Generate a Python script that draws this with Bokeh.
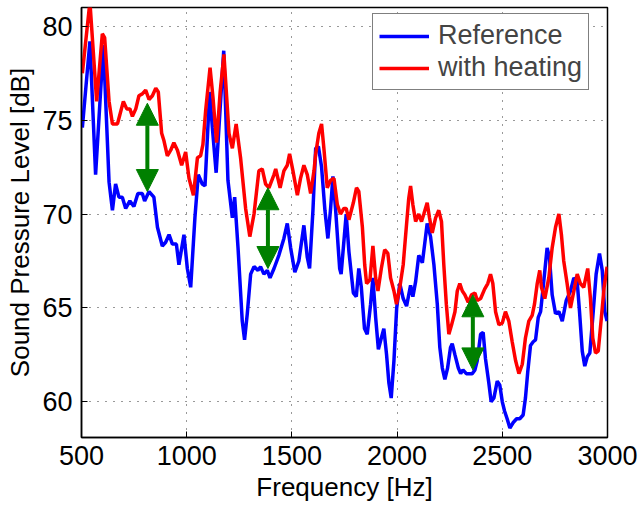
from bokeh.plotting import figure
from bokeh.models import (Range1d, Arrow, NormalHead, ColumnDataSource, Legend,
                          LegendItem, FixedTicker)
from bokeh.embed import file_html
from bokeh.resources import INLINE

# ---------------- data ----------------
freq_ref = [504, 540, 567, 604, 631, 647, 662, 678, 694, 710, 730, 749, 768, 789, 800,
            821, 844, 861, 884, 900, 916, 932, 951, 963, 987, 1003, 1019, 1039, 1055,
            1074, 1087, 1109, 1122, 1140, 1161, 1176, 1196, 1217, 1228, 1244, 1264,
            1275, 1288, 1304, 1320, 1339, 1351, 1367, 1383, 1396, 1415, 1438, 1462,
            1478, 1494, 1514, 1533, 1557, 1573, 1584, 1600, 1613, 1626, 1641, 1657,
            1671, 1684, 1695, 1708, 1727, 1734, 1758, 1771, 1792, 1806, 1818, 1830,
            1845, 1858, 1874, 1885, 1898, 1911, 1925, 1937, 1950, 1961, 1972, 1985,
            1998, 2013, 2029, 2045, 2064, 2075, 2088, 2103, 2120, 2131, 2143, 2159,
            2175, 2191, 2203, 2215, 2227, 2240, 2254, 2262, 2275, 2291, 2302, 2313,
            2329, 2344, 2357, 2370, 2381, 2397, 2409, 2420, 2436, 2447, 2460, 2476,
            2488, 2500, 2511, 2523, 2536, 2552, 2568, 2583, 2599, 2610, 2621, 2634,
            2647, 2658, 2671, 2682, 2697, 2713, 2724, 2737, 2753, 2769, 2785, 2804,
            2824, 2840, 2856, 2867, 2880, 2892, 2904, 2916, 2930, 2946, 2962, 2975,
            2987, 2998]
spl_ref = [74.6, 79.2, 72.1, 79.0, 71.7, 70.2, 71.6, 70.9, 70.9, 70.3, 70.7, 70.4, 71.1,
           71.1, 70.7, 71.2, 70.9, 69.3, 68.3, 68.5, 68.9, 68.4, 68.4, 67.3, 68.9, 67.1,
           66.1, 69.8, 72.1, 71.6, 71.5, 76.5, 74.6, 72.2, 76.0, 78.7, 71.8, 69.8, 70.9,
           68.2, 64.3, 63.3, 64.7, 66.8, 67.2, 67.0, 67.2, 66.8, 67.0, 66.6, 67.1, 67.8,
           68.7, 69.5, 68.2, 66.9, 67.5, 69.4, 67.7, 67.1, 70.2, 73.5, 73.6, 72.5, 70.2,
           68.7, 70.3, 72.0, 70.2, 67.1, 66.8, 70.0, 68.0, 65.8, 65.6, 67.1, 66.1, 63.9,
           63.6, 65.2, 66.6, 64.5, 62.8, 63.4, 63.9, 62.5, 61.0, 60.2, 62.2, 65.0, 66.3,
           65.5, 65.1, 66.2, 65.6, 66.4, 67.8, 67.4, 68.4, 69.5, 68.8, 67.3, 65.2, 62.9,
           61.8, 61.2, 61.8, 62.9, 63.1, 62.5, 61.8, 61.5, 61.7, 61.5, 61.5, 61.5, 61.7,
           62.2, 63.6, 63.7, 62.3, 61.0, 60.0, 60.2, 61.1, 60.9, 60.0, 59.5, 59.1, 58.6,
           58.9, 59.1, 59.1, 59.3, 60.2, 61.6, 63.0, 63.2, 63.3, 64.5, 64.8, 66.4, 68.2,
           67.7, 65.7, 64.7, 64.8, 64.3, 65.4, 65.9, 66.6, 66.4, 64.8, 62.7, 61.9, 62.4,
           62.6, 64.5, 66.8, 67.9, 67.0, 64.8, 64.3]

freq_heat = [504, 540, 572, 599, 610, 631, 647, 671, 678, 699, 715, 730, 742, 758, 773,
             789, 805, 821, 837, 853, 865, 881, 892, 908, 924, 939, 956, 976, 995, 1011,
             1032, 1051, 1066, 1077, 1090, 1111, 1125, 1142, 1159, 1177, 1201, 1217,
             1235, 1256, 1280, 1300, 1320, 1343, 1359, 1375, 1391, 1415, 1423, 1444,
             1462, 1478, 1489, 1505, 1526, 1541, 1557, 1573, 1589, 1605, 1613, 1628,
             1641, 1652, 1668, 1684, 1700, 1716, 1731, 1747, 1758, 1771, 1792, 1807,
             1818, 1835, 1846, 1855, 1871, 1885, 1898, 1909, 1925, 1941, 1956, 1969,
             1985, 1997, 2013, 2029, 2040, 2055, 2064, 2075, 2088, 2103, 2116, 2127,
             2143, 2154, 2167, 2183, 2198, 2211, 2222, 2234, 2246, 2259, 2275, 2286,
             2298, 2310, 2322, 2338, 2354, 2370, 2381, 2397, 2416, 2431, 2444, 2455,
             2468, 2484, 2500, 2515, 2531, 2547, 2563, 2579, 2595, 2610, 2626, 2642,
             2653, 2666, 2678, 2686, 2702, 2721, 2737, 2753, 2769, 2781, 2792, 2808,
             2824, 2840, 2856, 2871, 2887, 2906, 2919, 2930, 2943, 2956, 2971, 2984,
             2998]
spl_heat = [77.5, 81.3, 76.0, 79.6, 79.4, 76.0, 74.8, 74.8, 75.1, 76.0, 75.6, 75.6, 75.2,
            75.6, 76.3, 76.4, 76.6, 76.1, 76.3, 76.7, 76.5, 74.3, 73.9, 73.1, 73.4, 73.8,
            73.4, 72.6, 73.3, 71.9, 71.0, 73.0, 73.1, 73.7, 75.5, 77.8, 76.2, 73.8, 76.5,
            78.5, 74.3, 73.5, 74.8, 73.0, 70.3, 68.8, 70.0, 72.3, 72.4, 71.6, 71.4, 72.1,
            72.4, 71.4, 72.3, 72.6, 73.2, 72.3, 71.0, 71.9, 72.6, 72.1, 71.1, 72.3, 73.2,
            74.3, 74.8, 73.5, 71.4, 71.8, 71.9, 70.5, 70.0, 70.3, 70.3, 69.7, 70.6, 71.4,
            71.2, 69.3, 67.3, 66.3, 66.5, 68.3, 66.6, 65.9, 67.1, 68.1, 67.9, 66.6, 65.9,
            65.2, 66.1, 67.3, 68.8, 70.8, 71.5, 70.5, 69.6, 70.0, 69.6, 70.0, 70.6, 69.8,
            69.0, 69.8, 70.2, 69.6, 67.3, 65.2, 63.6, 64.1, 64.8, 65.9, 66.3, 65.9, 65.7,
            65.3, 65.7, 65.8, 65.4, 65.5, 66.0, 66.3, 66.8, 66.3, 64.8, 64.1, 64.2, 64.8,
            64.3, 63.2, 62.2, 61.5, 62.0, 63.4, 64.3, 64.6, 65.2, 66.3, 67.0, 66.1, 65.5,
            66.6, 68.2, 69.3, 70.0, 68.9, 67.5, 66.3, 65.0, 65.9, 66.8, 66.3, 66.1, 67.1,
            65.5, 63.4, 62.6, 62.7, 64.5, 66.1, 67.2]

arrow_freq = [813, 1386, 2360]
arrow_low = [71.2, 67.1, 61.7]
arrow_high = [75.9, 71.4, 65.7]

x_ticks = [500, 1000, 1500, 2000, 2500, 3000]
y_ticks = [60, 65, 70, 75, 80]

FONT = "Liberation Sans"

p = figure(width=639, height=507, output_backend="svg", toolbar_location=None,
           x_range=Range1d(500, 3000), y_range=Range1d(58.1, 81.0),
           min_border_left=81, min_border_right=32, min_border_top=7,
           min_border_bottom=70, background_fill_color="white",
           border_fill_color="white")

p.outline_line_color = "black"
p.outline_line_width = 1.5

for ax in (p.xaxis[0], p.yaxis[0]):
    ax.axis_line_color = "black"
    ax.axis_line_width = 1.5
    ax.major_tick_in = 6
    ax.major_tick_out = 0
    ax.minor_tick_line_color = None
    ax.major_tick_line_color = "black"
    ax.major_label_text_font = FONT
    ax.major_label_text_font_size = "27px"
    ax.major_label_text_color = "black"
    ax.axis_label_text_font = FONT
    ax.axis_label_text_font_size = "26px"
    ax.axis_label_text_font_style = "normal"
    ax.axis_label_text_color = "black"

p.xaxis.ticker = FixedTicker(ticks=x_ticks)
p.yaxis.ticker = FixedTicker(ticks=y_ticks)
p.xaxis.axis_label = "Frequency [Hz]"
p.yaxis.axis_label = "Sound Pressure Level [dB]"
p.xaxis.major_label_standoff = 8
p.yaxis.major_label_standoff = 9
p.xaxis.axis_label_standoff = 4
p.yaxis.axis_label_standoff = 4

p.xgrid[0].ticker = FixedTicker(ticks=x_ticks)
p.ygrid[0].ticker = FixedTicker(ticks=y_ticks)
for g in (p.xgrid[0], p.ygrid[0]):
    g.grid_line_color = "#333333"
    g.grid_line_dash = "1 7"
    g.grid_line_width = 1

r_ref = p.line(freq_ref, spl_ref, line_color="#0000FF", line_width=3.5)
r_heat = p.line(freq_heat, spl_heat, line_color="#FF0000", line_width=3.5)

green = "#008000"
asrc = ColumnDataSource(dict(x0=arrow_freq, y0=arrow_low, x1=arrow_freq, y1=arrow_high))
p.add_layout(Arrow(x_start="x0", y_start="y0", x_end="x1", y_end="y1", source=asrc,
                   line_color=green, line_width=4,
                   start=NormalHead(size=22, fill_color=green, line_color=green),
                   end=NormalHead(size=22, fill_color=green, line_color=green)))

legend = Legend(items=[LegendItem(label="Reference", renderers=[r_ref]),
                       LegendItem(label="with heating", renderers=[r_heat])],
                location=(291, 347))
legend.label_text_font = FONT
legend.label_text_font_size = "27px"
legend.border_line_color = "black"
legend.border_line_width = 1.5
legend.background_fill_alpha = 1
legend.glyph_width = 50
legend.glyph_height = 28
legend.label_height = 28
legend.label_standoff = 9
legend.spacing = 1
legend.padding = 6
legend.margin = 0
p.add_layout(legend)

open("out.html", "w").write(file_html(p, INLINE))
